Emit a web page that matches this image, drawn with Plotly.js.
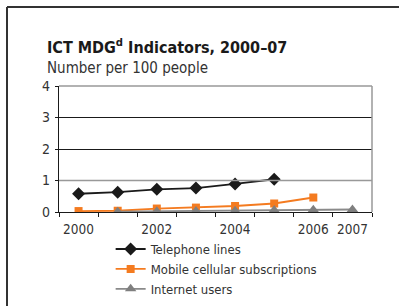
<!DOCTYPE html>
<html><head><meta charset="utf-8">
<script src="https://cdn.plot.ly/plotly-3.0.1.min.js"></script>
<style>html,body{margin:0;padding:0;background:#fff}#c{width:399px;height:306px}</style>
</head><body><div id="c"></div>
<script>
const years = [2000, 2001, 2002, 2003, 2004, 2005, 2006, 2007];
const telYears = [2000, 2001, 2002, 2003, 2004, 2005];
const telephone = [0.58, 0.63, 0.72, 0.76, 0.89, 1.04];
const mobYears = [2000, 2001, 2002, 2003, 2004, 2005, 2006];
const mobile = [0.03, 0.04, 0.11, 0.14, 0.19, 0.27, 0.46];
const netYears = [2001, 2002, 2003, 2004, 2005, 2006, 2007];
const internet = [0.01, 0.02, 0.03, 0.04, 0.06, 0.07, 0.08];
const xTickVals = [2000, 2002, 2004, 2006, 2007];
const xTickText = ['2000', '2002', '2004', '2006', '2007'];
const seriesNames = ['Telephone lines', 'Mobile cellular subscriptions', 'Internet users'];

const FONT = '"DejaVu Sans Condensed", "Liberation Sans Narrow", "Arial Narrow", sans-serif';
const traces = [
  {x: telYears, y: telephone, name: seriesNames[0], type: 'scatter', mode: 'lines+markers',
   line: {color: '#1a1a1a', width: 1.8}, marker: {symbol: 'diamond', size: 10, color: '#1a1a1a'}},
  {x: mobYears, y: mobile, name: seriesNames[1], type: 'scatter', mode: 'lines+markers',
   line: {color: '#f47b20', width: 1.8}, marker: {symbol: 'square', size: 8, color: '#f47b20'}},
  {x: netYears, y: internet, name: seriesNames[2], type: 'scatter', mode: 'lines+markers',
   line: {color: '#8a8a8a', width: 1.8}, marker: {symbol: 'triangle-up', size: 10, color: '#7f7f7f'}}
];
const layout = {
  width: 399, height: 306,
  margin: {l: 59, r: 27, t: 86, b: 94, autoexpand: false},
  paper_bgcolor: '#fff', plot_bgcolor: '#fff',
  font: {family: FONT, size: 13, color: '#333'},
  showlegend: true,
  legend: {x: 0.165, xanchor: 'left', y: -0.175, yanchor: 'top', orientation: 'v',
           font: {family: FONT, size: 13, color: '#333'}, itemwidth: 30, tracegroupgap: 0,
           bgcolor: 'rgba(0,0,0,0)'},
  xaxis: {range: [1999.5, 2007.5], tickmode: 'array', tickvals: xTickVals, ticktext: xTickText,
          ticks: '', showgrid: false, zeroline: false, showline: true, linecolor: '#1a1a1a', linewidth: 1.2,
          mirror: false, tickfont: {family: FONT, size: 13.5, color: '#333'}, fixedrange: true,
          ticklabelstandoff: 5,
          minor: {tickmode: 'linear', tick0: 2000.5, dtick: 1, ticks: 'outside', ticklen: 4, tickcolor: '#1a1a1a', tickwidth: 1, showgrid: false}},
  yaxis: {range: [0, 4], tickvals: [0, 1, 2, 3, 4], ticks: 'outside', ticklen: 3, tickcolor: '#1a1a1a',
          showgrid: true, gridcolor: '#1a1a1a', gridwidth: 1, zeroline: false, showline: true,
          linecolor: '#1a1a1a', linewidth: 1.2, tickfont: {family: FONT, size: 14, color: '#333'},
          ticklabelstandoff: 2, fixedrange: true},
  shapes: [
    {type: 'line', xref: 'paper', yref: 'paper', x0: 0, x1: 1, y0: 1, y1: 1, line: {color: '#999', width: 1.5}},
    {type: 'line', xref: 'paper', yref: 'paper', x0: 1, x1: 1, y0: 0, y1: 1, line: {color: '#999', width: 1.5}},
    {type: 'line', xref: 'paper', yref: 'y', x0: 0, x1: 1, y0: 1, y1: 1, line: {color: '#999', width: 1.5}},
    {type: 'line', xref: 'paper', yref: 'paper', x0: -52/313, x1: 340/313, y0: 205/126, y1: 205/126, line: {color: '#333', width: 2}},
    {type: 'line', xref: 'paper', yref: 'paper', x0: -52/313, x1: -52/313, y0: 205/126, y1: -100/126, line: {color: '#333', width: 2}}
  ],
  annotations: [
    {xref: 'paper', yref: 'paper', x: -14/313, y: 153/126, xanchor: 'left', yanchor: 'bottom', showarrow: false,
     text: '<b>ICT MDG<sup>d</sup> Indicators, 2000–07</b>', font: {family: FONT, size: 16, color: '#1a1a1a'}},
    {xref: 'paper', yref: 'paper', x: -14/313, y: 133/126, xanchor: 'left', yanchor: 'bottom', showarrow: false,
     text: 'Number per 100 people', font: {family: FONT, size: 15, color: '#333'}}
  ]
};
Plotly.newPlot('c', traces, layout, {displayModeBar: false, staticPlot: true});
</script></body></html>
